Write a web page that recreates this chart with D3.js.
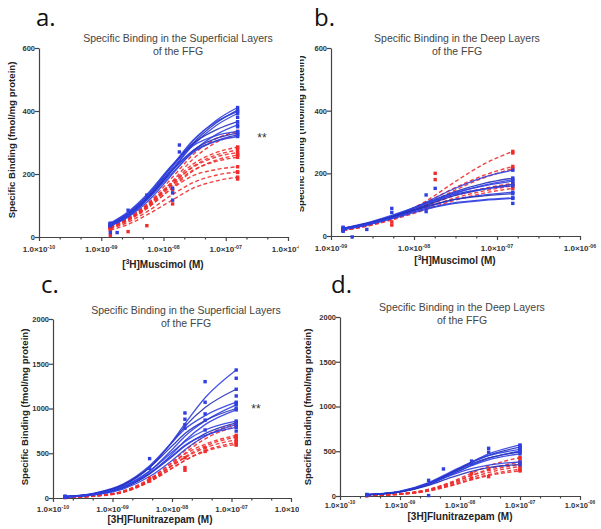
<!DOCTYPE html>
<html><head><meta charset="utf-8">
<script src="https://cdn.jsdelivr.net/npm/d3@7"></script>
<style>
html,body{margin:0;padding:0;background:#fff;}
svg{display:block;}
</style></head>
<body>
<svg id="chart" width="601" height="529"></svg>
<script>
// ---------------- DATA ----------------
// Panel a: [3H]Muscimol, superficial layers
const concA = [1.4e-9, 2.7e-9, 5.4e-9, 1.4e-8, 3e-8, 7e-8, 1.55e-7];
const blueA = [
  [38, 68, 120, 222, 305, 370, 411],
  [36, 66, 117, 215, 298, 362, 403],
  [40, 72, 125, 228, 308, 366, 398],
  [37, 67, 118, 214, 292, 354, 392],
  [42, 76, 130, 228, 297, 340, 366],
  [35, 63, 110, 200, 272, 325, 356],
  [44, 80, 135, 230, 290, 322, 335],
  [40, 72, 122, 212, 275, 313, 330],
  [38, 70, 118, 205, 268, 305, 324],
  [42, 76, 128, 215, 272, 304, 319]
];
const redA = [
  [34, 60, 104, 190, 262, 312, 335],
  [30, 55, 97, 178, 248, 300, 325],
  [32, 58, 100, 175, 232, 268, 285],
  [30, 55, 95, 168, 224, 260, 276],
  [33, 60, 102, 172, 222, 254, 268],
  [28, 52, 90, 158, 210, 244, 260],
  [31, 56, 96, 165, 212, 240, 253],
  [30, 54, 92, 155, 195, 214, 223],
  [26, 47, 80, 135, 173, 196, 207],
  [22, 40, 70, 118, 155, 178, 190]
];
const bluePtsA = [[1.4e-9,14],[1.8e-9,14],[5.4e-9,133],[1.8e-8,292],[1.8e-8,270],[1.4e-8,155],[1.4e-8,140],[1.4e-8,117],[2.7e-9,85],[2.7e-9,70],[1.55e-7,380],[1.55e-7,350]];
const redPtsA = [[2.7e-9,17],[5.4e-9,36],[1.4e-8,105],[1.4e-9,5],[1.4e-8,150],[1.55e-7,184],[1.55e-7,205],[1.55e-7,285],[1.55e-7,262]];

// Panel b: [3H]Muscimol, deep layers
const concB = [1.4e-9, 2.7e-9, 5.4e-9, 1.4e-8, 3e-8, 7e-8, 1.55e-7];
const blueB = [
  [22, 38, 62, 108, 150, 188, 210],
  [23, 38, 62, 104, 140, 168, 185],
  [20, 35, 58, 98, 134, 162, 180],
  [24, 40, 64, 104, 137, 160, 175],
  [22, 37, 60, 98, 128, 150, 165],
  [25, 42, 66, 104, 132, 150, 160],
  [22, 37, 58, 92, 116, 131, 140],
  [24, 40, 61, 94, 116, 128, 135],
  [23, 38, 58, 88, 106, 116, 122],
  [21, 35, 55, 85, 103, 114, 120]
];
const redB = [
  [18, 33, 58, 112, 170, 230, 270],
  [20, 35, 60, 108, 152, 194, 222],
  [18, 32, 55, 100, 144, 186, 215],
  [20, 35, 57, 96, 128, 152, 168],
  [19, 33, 54, 90, 120, 144, 160],
  [18, 31, 51, 85, 113, 137, 152]
];
const bluePtsB = [[1.4e-9,28],[1.4e-9,15],[2.7e-9,21],[5.4e-9,88],[5.4e-9,75],[1.4e-8,78],[1.4e-8,131],[1.8e-8,152],[1.55e-7,104],[1.8e-9,-3]];
const redPtsB = [[1.8e-8,200],[1.8e-8,180],[5.4e-9,35],[5.4e-9,45],[1.55e-7,265]];

// Panel c: [3H]Flunitrazepam, superficial layers
const concC = [1.6e-10, 5e-10, 1.5e-9, 4.2e-9, 1e-8, 1.65e-8, 3.6e-8, 1.2e-7];
const blueC = [
  [15, 48, 140, 340, 630, 830, 1120, 1430],
  [16, 50, 145, 345, 620, 800, 1010, 1215],
  [18, 55, 155, 360, 620, 770, 920, 1070],
  [14, 44, 125, 300, 540, 690, 860, 1040],
  [17, 52, 148, 340, 580, 720, 865, 1000],
  [12, 38, 110, 270, 490, 640, 820, 985],
  [15, 45, 130, 300, 510, 630, 760, 860],
  [13, 40, 115, 270, 460, 580, 720, 840],
  [11, 34, 100, 240, 420, 540, 690, 820],
  [14, 42, 120, 280, 470, 590, 700, 790]
];
const redC = [
  [8, 26, 75, 210, 400, 530, 690, 830],
  [7, 22, 68, 190, 370, 500, 660, 800],
  [8, 25, 75, 215, 390, 490, 600, 700],
  [7, 22, 68, 195, 360, 460, 580, 680],
  [8, 24, 72, 200, 360, 450, 560, 650],
  [6, 20, 62, 180, 330, 420, 530, 620],
  [7, 22, 66, 185, 335, 420, 520, 600]
];
const bluePtsC = [[1.2e-7,1338],[1.2e-7,1140],[1.2e-7,1058],[1.2e-7,748],[3.6e-8,1300],[3.6e-8,1070],[3.6e-8,940],[3.6e-8,870],[3.6e-8,760],[1.65e-8,950],[1.65e-8,880],[1.65e-8,820],[1.65e-8,780],[4.2e-9,440],[4.2e-9,330]];
const redPtsC = [[1.2e-7,684],[1.2e-7,628],[1.2e-7,591],[1.65e-8,310],[1.65e-8,340],[1.65e-8,450],[3.6e-8,520],[3.6e-8,560],[4.2e-9,220],[4.2e-9,190]];

// Panel d: [3H]Flunitrazepam, deep layers
const concD = [2.8e-10, 1e-9, 3e-9, 7e-9, 1.56e-8, 3e-8, 1e-7];
const blueD = [
  [14, 48, 135, 255, 380, 470, 570],
  [15, 50, 140, 260, 375, 455, 545],
  [16, 55, 150, 270, 380, 450, 520],
  [13, 45, 128, 235, 345, 420, 500],
  [15, 50, 140, 252, 358, 425, 490],
  [14, 48, 132, 240, 340, 405, 470],
  [15, 50, 135, 230, 305, 345, 380],
  [13, 44, 120, 205, 275, 318, 350]
];
const redD = [
  [7, 25, 75, 155, 255, 335, 430],
  [6, 22, 68, 140, 230, 300, 380],
  [7, 24, 72, 145, 228, 285, 350],
  [6, 20, 62, 128, 205, 262, 330],
  [5, 18, 55, 115, 185, 238, 300],
  [6, 20, 58, 115, 180, 228, 280]
];
const bluePtsD = [[3e-8,533],[3e-8,490],[1.56e-8,390],[1.56e-8,360],[5.3e-9,302],[3e-9,175],[3e-9,5],[1e-7,560],[1e-7,530]];
const redPtsD = [[1.56e-8,200],[1.56e-8,250],[3e-8,216],[3e-8,300],[1e-7,420],[1e-7,290]];

// Axis tick values
const yTicksAB = [0, 200, 400, 600];
const yTicksCD = [0, 500, 1000, 1500, 2000];
const xTicksACD = [1e-10, 1e-9, 1e-8, 1e-7, 1e-6];
const xTicksB = [1e-9, 1e-8, 1e-7, 1e-6];
const titleSuperficial = ["Specific Binding in the Superficial Layers", "of the FFG"];
const titleDeep = ["Specific Binding in the Deep Layers", "of the FFG"];
const yAxisTitle = "Specific Binding (fmol/mg protein)";

// ---------------- DRAWING ----------------
const svg = d3.select("#chart");
const BLUE = "#2f3fe0", BLUE2 = "#2430b8", RED = "#f02c2c";
const FONT = "'Liberation Sans', Arial, sans-serif";

const defs = svg.append("defs");
[["clipL", 0, 299], ["clipR", 300, 601]].forEach(([id, a, b]) => {
  defs.append("clipPath").attr("id", id).append("rect")
    .attr("x", a).attr("y", 0).attr("width", b - a).attr("height", 529);
});

function expLabel(v) {
  const e = Math.round(Math.log10(v));
  return (e < 0 ? "-" : "") + String(Math.abs(e)).padStart(2, "0");
}

function drawPanel(c) {
  const g = svg.append("g").attr("clip-path", `url(#${c.clip})`);
  const x = d3.scaleLog().domain(c.xDomain).range([c.x0, c.x1]);
  const y = d3.scaleLinear().domain([0, c.yMax]).range([c.y0, c.y1]);

  // letter
  g.append("text").attr("x", c.letterX).attr("y", c.letterY)
    .attr("font-family", "'Open Sans', 'Noto Sans', sans-serif").attr("font-size", 24)
    .attr("fill", "#111").text(c.letter);

  // title
  c.title.forEach((t, i) => {
    g.append("text").attr("x", c.titleX).attr("y", c.titleY + i * 13)
      .attr("text-anchor", "middle").attr("font-family", FONT).attr("font-size", 10.5)
      .attr("fill", "#444").text(t);
  });

  // axes
  const xMaj = d3.axisBottom(x).tickValues(c.xTicks).tickSize(4).tickSizeOuter(0).tickFormat("");
  const minors = [];
  for (let i = 0; i < c.xTicks.length - 1; i++) {
    const lo = Math.log10(c.xTicks[i]);
    for (let k = 1; k < c.nMinor; k++) minors.push(Math.pow(10, lo + k / c.nMinor));
  }
  const xMin = d3.axisBottom(x).tickValues(minors).tickSize(2.5).tickSizeOuter(0).tickFormat("");
  const gxMin = g.append("g").attr("transform", `translate(0,${c.y0})`).call(xMin);
  gxMin.select(".domain").remove();
  g.append("g").attr("transform", `translate(0,${c.y0})`).call(xMaj);
  g.selectAll("g.tick line, path.domain").attr("stroke", "#444").attr("stroke-width", 1.2);

  c.xTicks.forEach(v => {
    const t = g.append("text").attr("x", x(v)).attr("y", c.y0 + c.xLabDy)
      .attr("text-anchor", "middle").attr("font-family", FONT).attr("font-size", c.xLabSize)
      .attr("font-weight", "bold").attr("fill", "#333");
    t.append("tspan").text("1.0\u00d710");
    t.append("tspan").attr("font-size", c.xLabSize * 0.66).attr("dy", -3.5).text(expLabel(v));
  });

  const yAx = d3.axisLeft(y).tickValues(c.yTicks).tickSize(4).tickSizeOuter(0).tickFormat(d3.format("d"));
  const gy = g.append("g").attr("transform", `translate(${c.x0},0)`).call(yAx);
  gy.selectAll("line, path").attr("stroke", "#444").attr("stroke-width", 1.2);
  gy.selectAll("text").attr("font-family", FONT).attr("font-size", 7.5)
    .attr("font-weight", "bold").attr("fill", "#333").attr("x", -4);

  // axis titles
  const xt = g.append("text").attr("x", c.xTitleX).attr("y", c.xTitleY)
    .attr("text-anchor", "middle").attr("font-family", FONT).attr("font-size", 10)
    .attr("font-weight", "bold").attr("fill", "#222");
  let shift = 0;
  c.xTitle.forEach(([s, sup]) => {
    const target = sup ? -4 : 0;
    xt.append("tspan").attr("font-size", sup ? 6.5 : 10).attr("dy", target - shift).text(s);
    shift = target;
  });
  g.append("text").attr("transform", `translate(${c.yTitleX},${c.yTitleY}) rotate(-90)`)
    .attr("text-anchor", "middle").attr("font-family", FONT).attr("font-size", 9.6)
    .attr("font-weight", "bold").attr("fill", "#222").text(yAxisTitle);

  // curves
  const line = d3.line().x(d => x(d[0])).y(d => y(d[1])).curve(d3.curveMonotoneX);
  c.red.forEach(vals => {
    g.append("path").datum(c.conc.map((cc, i) => [cc, vals[i]])).attr("d", line)
      .attr("fill", "none").attr("stroke", RED).attr("stroke-width", 1.4)
      .attr("stroke-dasharray", "4,2.5").attr("opacity", 0.9);
  });
  c.blue.forEach((vals, j) => {
    g.append("path").datum(c.conc.map((cc, i) => [cc, vals[i]])).attr("d", line)
      .attr("fill", "none").attr("stroke", j % 3 === 1 ? BLUE2 : BLUE).attr("stroke-width", 1.3)
      .attr("opacity", 0.9);
  });

  // markers
  const sq = 3.4;
  function marks(pts, col) {
    g.selectAll(null).data(pts).enter().append("rect")
      .attr("x", d => x(d[0]) - sq / 2).attr("y", d => y(d[1]) - sq / 2)
      .attr("width", sq).attr("height", sq).attr("fill", col);
  }
  const last = c.conc.length - 1;
  marks(c.red.map(v => [c.conc[last], v[last]]).concat(c.red.map(v => [c.conc[0], v[0]])), RED);
  marks(c.redPts, RED);
  marks(c.blue.map(v => [c.conc[last], v[last]]).concat(c.blue.map(v => [c.conc[0], v[0]])), BLUE);
  marks(c.bluePts, BLUE);

  if (c.stars) {
    g.append("text").attr("x", c.stars[0]).attr("y", c.stars[1]).attr("text-anchor", "middle")
      .attr("font-family", FONT).attr("font-size", 12).attr("fill", "#333").text("**");
  }
}

drawPanel({
  clip: "clipL", letter: "a.", letterX: 36, letterY: 26,
  title: titleSuperficial, titleX: 178, titleY: 42,
  xDomain: [1e-10, 1e-6], x0: 39, x1: 288, yMax: 600, y0: 237, y1: 48,
  xTicks: xTicksACD, nMinor: 3, yTicks: yTicksAB, xLabDy: 15, xLabSize: 8,
  xTitle: [["[", false], ["3", true], ["H]Muscimol (M)", false]], xTitleX: 163, xTitleY: 268,
  yTitleX: 15, yTitleY: 140,
  conc: concA, blue: blueA, red: redA, bluePts: bluePtsA, redPts: redPtsA, stars: [262, 142]
});
drawPanel({
  clip: "clipR", letter: "b.", letterX: 314, letterY: 26,
  title: titleDeep, titleX: 457, titleY: 42,
  xDomain: [1e-9, 1e-6], x0: 331, x1: 580, yMax: 600, y0: 236, y1: 48,
  xTicks: xTicksB, nMinor: 4, yTicks: yTicksAB, xLabDy: 15, xLabSize: 8,
  xTitle: [["[", false], ["3", true], ["H]Muscimol (M)", false]], xTitleX: 455, xTitleY: 264,
  yTitleX: 304, yTitleY: 134,
  conc: concB, blue: blueB, red: redB, bluePts: bluePtsB, redPts: redPtsB
});
drawPanel({
  clip: "clipL", letter: "c.", letterX: 41, letterY: 293,
  title: titleSuperficial, titleX: 186, titleY: 314,
  xDomain: [1e-10, 1e-6], x0: 53, x1: 291, yMax: 2000, y0: 498, y1: 319,
  xTicks: xTicksACD, nMinor: 3, yTicks: yTicksCD, xLabDy: 14, xLabSize: 8,
  xTitle: [["[3H]Flunitrazepam (M)", false]], xTitleX: 160, xTitleY: 523,
  yTitleX: 28, yTitleY: 407,
  conc: concC, blue: blueC, red: redC, bluePts: bluePtsC, redPts: redPtsC, stars: [256, 413]
});
drawPanel({
  clip: "clipR", letter: "d.", letterX: 331, letterY: 293,
  title: titleDeep, titleX: 462, titleY: 311,
  xDomain: [1e-10, 1e-6], x0: 340, x1: 580, yMax: 2000, y0: 496, y1: 317,
  xTicks: xTicksACD, nMinor: 3, yTicks: yTicksCD, xLabDy: 11.5, xLabSize: 7.5,
  xTitle: [["[3H]Flunitrazepam (M)", false]], xTitleX: 460, xTitleY: 520,
  yTitleX: 311, yTitleY: 407,
  conc: concD, blue: blueD, red: redD, bluePts: bluePtsD, redPts: redPtsD
});
</script>
</body></html>
